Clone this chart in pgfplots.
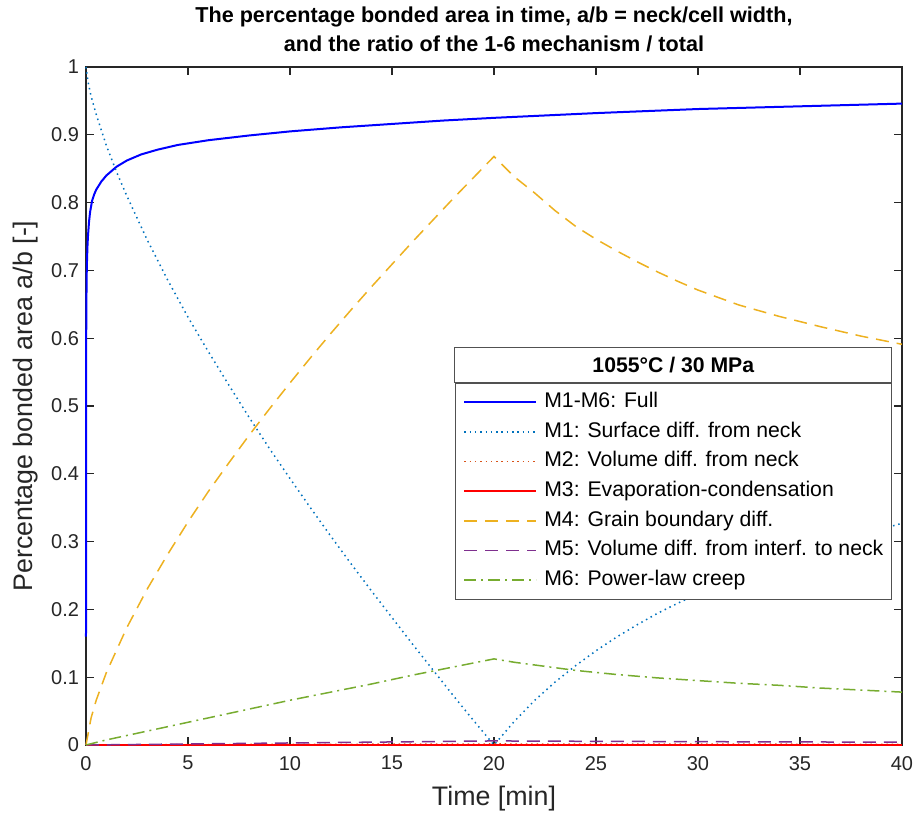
\documentclass[border=0pt]{standalone}
\usepackage{pgfplots}
\pgfplotsset{compat=1.18}
\usetikzlibrary{calc}
\usepackage{fontspec}
\setmainfont{Liberation Sans}
\definecolor{axc}{RGB}{38,38,38}
\definecolor{mfull}{RGB}{0,0,255}
\definecolor{mone}{RGB}{0,114,189}
\definecolor{mtwo}{RGB}{217,83,25}
\definecolor{mthree}{RGB}{255,0,0}
\definecolor{mfour}{RGB}{237,177,32}
\definecolor{mfive}{RGB}{126,47,142}
\definecolor{msix}{RGB}{119,172,48}
\begin{document}
\begin{tikzpicture}
\begin{axis}[
  name=ax,
  scale only axis,
  width=408pt, height=339pt,
  xmin=0, xmax=40, ymin=0, ymax=1,
  xtick={0,5,...,40},
  ytick={0,0.1,0.2,0.3,0.4,0.5,0.6,0.7,0.8,0.9,1},
  yticklabels={0,0.1,0.2,0.3,0.4,0.5,0.6,0.7,0.8,0.9,1},
  tick align=inside,
  major tick length=4pt,
  axis line style={axc, line width=0.6pt},
  every tick/.style={axc, line width=0.6pt},
  tick label style={font=\fontsize{10}{12}\selectfont, text=axc},
  /pgf/number format/assume math mode=true,
  xticklabel style={yshift=-2pt},
  xlabel={Time [min]},
  ylabel={Percentage bonded area a/b [-]},
  label style={font=\fontsize{13.4}{16}\selectfont, text=axc},
  xlabel style={yshift=-1pt},
  ylabel style={yshift=-0.5pt},
  title={The percentage bonded area in time, a/b = neck/cell width,\\and the ratio of the 1-6 mechanism / total},
  title style={align=center, font=\bfseries\fontsize{10.8}{14.5}\selectfont, yshift=-2pt},
  clip=false,
  legend cell align=left,
  legend image code/.code={\draw[#1] (0pt,0pt) -- (36pt,0pt);},
  legend style={name=leg, at={(rel axis cs:0.452,0.534)}, anchor=north west,
    draw=axc!80, line width=0.5pt, font=\fontsize{10.6}{12.5}\selectfont,
    inner xsep=4pt, inner ysep=4.5pt, row sep=4.8pt, column sep=3.5pt,
    nodes={inner sep=0pt, text height=7.6pt, text depth=2.4pt}},
]
\addplot[mfull, line width=1pt] coordinates {
(0,0.16)(0.002,0.40)(0.005,0.52)(0.01,0.60)(0.02,0.655)(0.035,0.695)(0.05,0.715)(0.075,0.738)(0.1,0.752)(0.15,0.772)(0.2,0.786)(0.3,0.803)(0.4,0.812)(0.5,0.819)(0.75,0.831)(1,0.840)(1.5,0.853)(2,0.862)(2.7,0.871)(3.5,0.878)(4.5,0.885)(6,0.892)(8,0.899)(10,0.905)(12.5,0.911)(15,0.916)(17.5,0.921)(20,0.925)(25,0.932)(30,0.938)(35,0.942)(40,0.946)};
\addlegendentry{M1-M6: Full}
\addplot[mone, line width=0.75pt, dash pattern=on 0.75pt off 1.9pt] coordinates {
(0,1)(0.1,0.978)(0.25,0.957)(0.5,0.930)(1,0.884)(1.5,0.845)(2,0.810)(3,0.745)(4,0.686)(5,0.631)(6,0.580)(7,0.531)(8,0.483)(9,0.437)(10,0.393)(11,0.350)(12,0.308)(13,0.267)(14,0.227)(15,0.188)(16,0.149)(17,0.111)(18,0.073)(19,0.036)(20,0)
(21,0.035)(22,0.066)(23,0.093)(24,0.117)(25,0.139)(26,0.159)(27,0.177)(28,0.194)(29,0.209)(30,0.223)(32,0.249)(34,0.272)(36,0.292)(38,0.310)(40,0.327)};
\addlegendentry{M1: Surface diff. from neck}
\addplot[mtwo, line width=0.75pt, dash pattern=on 0.75pt off 1.9pt] coordinates {
(0,0)(5,0.0005)(10,0.0009)(15,0.0012)(20,0.0015)(25,0.0013)(30,0.0012)(35,0.0011)(40,0.001)};
\addlegendentry{M2: Volume diff. from neck}
\addplot[mthree, line width=1pt] coordinates {(0,0)(10,0)(20,0)(30,0)(40,0)};
\addlegendentry{M3: Evaporation-condensation}
\addplot[mfour, line width=0.75pt, dash pattern=on 6.5pt off 4pt] coordinates {
(0,0)(0.1,0.016)(0.25,0.040)(0.5,0.066)(1,0.107)(2,0.173)(3,0.230)(4,0.281)(5,0.329)(6,0.374)(7,0.416)(8,0.457)(9,0.496)(10,0.534)(11,0.571)(12,0.607)(13,0.642)(14,0.676)(15,0.709)(16,0.742)(17,0.774)(18,0.806)(19,0.837)(20,0.868)
(21,0.838)(22,0.814)(23,0.788)(24,0.765)(25,0.746)(26,0.729)(27,0.713)(28,0.698)(29,0.684)(30,0.671)(32,0.649)(34,0.632)(36,0.617)(38,0.603)(40,0.591)};
\addlegendentry{M4: Grain boundary diff.}
\addplot[mfive, line width=0.75pt, dash pattern=on 6.5pt off 4pt] coordinates {
(0,0)(5,0.0015)(10,0.003)(15,0.0045)(20,0.006)(25,0.0054)(30,0.0049)(35,0.0045)(40,0.0042)};
\addlegendentry{M5: Volume diff. from interf. to neck}
\addplot[msix, line width=0.75pt, dash pattern=on 6pt off 2.5pt on 1pt off 2.5pt] coordinates {
(0,0)(1,0.0075)(2,0.014)(4,0.027)(6,0.040)(8,0.053)(10,0.066)(12,0.078)(14,0.090)(16,0.103)(18,0.115)(20,0.127)
(21,0.122)(22,0.118)(24,0.110)(26,0.104)(28,0.099)(30,0.095)(32,0.091)(34,0.088)(36,0.084)(38,0.081)(40,0.078)};
\addlegendentry{M6: Power-law creep}
\end{axis}
\draw[draw=axc!80, line width=0.5pt, fill=white] (leg.north west) rectangle ([yshift=17.5pt]leg.north east);
\node[font=\bfseries\fontsize{10.6}{12.5}\selectfont] at ($(leg.north west)!0.5!(leg.north east)+(0,8.75pt)$) {1055°C / 30 MPa};
\pgfresetboundingbox
\path ([shift={(-43pt,-37pt)}]ax.south west) rectangle ([shift={(9.5pt,33.5pt)}]ax.north east);
\end{tikzpicture}
\end{document}
